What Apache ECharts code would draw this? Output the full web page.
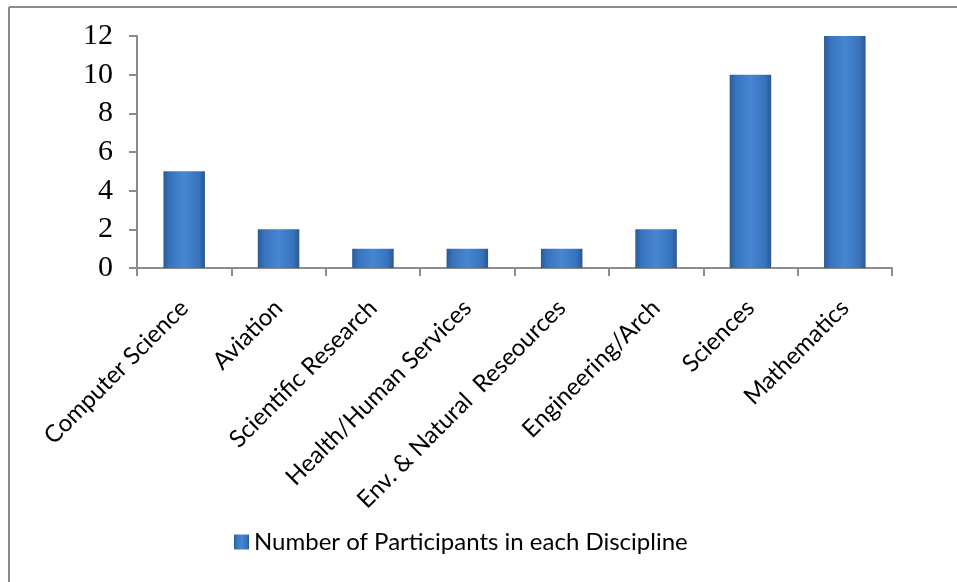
<!DOCTYPE html>
<html>
<head>
<meta charset="utf-8">
<script src="https://cdn.jsdelivr.net/npm/echarts@6/dist/echarts.min.js"></script>
<style>
  html, body { margin: 0; padding: 0; background: #fff; }
  #chart { width: 957px; height: 582px; }
</style>
</head>
<body>
<div id="chart"></div>
<script>
// 数据
var categories = ['Computer Science', 'Aviation', 'Scientific Research', 'Health/Human Services',
    'Env. & Natural  Reseources', 'Engineering/Arch', 'Sciences', 'Mathematics'];
var participants = [5, 2, 1, 1, 1, 2, 10, 12];
var seriesName = 'Number of Participants in each Discipline';

var myChart = echarts.init(document.getElementById('chart'));

// 柱子渐变（左右深，中间亮）
var barColor = new echarts.graphic.LinearGradient(0, 0, 1, 0, [
    {offset: 0, color: '#2b5b96'},
    {offset: 0.15, color: '#3873bd'},
    {offset: 0.5, color: '#4686d2'},
    {offset: 0.85, color: '#3873bd'},
    {offset: 1, color: '#2b5890'}
]);

var option = {
    animation: false,
    grid: {left: 137, right: 65, top: 36, bottom: 314, containLabel: false},
    legend: {
        data: [seriesName],
        left: 229, top: 525,
        itemWidth: 15, itemHeight: 15, itemGap: 7,
        icon: 'rect',
        textStyle: {fontFamily: 'Lato', fontSize: 24, color: '#000'}
    },
    xAxis: {
        type: 'category',
        data: categories,
        axisLine: {lineStyle: {color: '#8c8c8c', width: 2}},
        axisTick: {show: true, length: 8, alignWithLabel: false, lineStyle: {color: '#8c8c8c', width: 2}},
        axisLabel: {
            interval: 0, rotate: 45, margin: 36,
            fontFamily: 'Lato', fontSize: 24, color: '#000'
        }
    },
    yAxis: {
        type: 'value',
        min: 0, max: 12, interval: 2,
        splitLine: {show: false},
        axisLine: {show: true, lineStyle: {color: '#8c8c8c', width: 2}},
        axisTick: {show: true, length: 8, lineStyle: {color: '#8c8c8c', width: 2}},
        axisLabel: {fontFamily: 'Liberation Serif', fontSize: 30, color: '#000', margin: 24}
    },
    series: [{
        name: seriesName,
        type: 'bar',
        data: participants,
        barWidth: '44%',
        itemStyle: {color: barColor}
    }],
    graphic: [
        {type: 'line', shape: {x1: 9, y1: 7, x2: 957, y2: 7}, style: {stroke: '#8c8c8c', lineWidth: 2}},
        {type: 'line', shape: {x1: 9, y1: 7, x2: 9, y2: 582}, style: {stroke: '#8c8c8c', lineWidth: 2}}
    ]
};
myChart.setOption(option);

window.addEventListener('resize', function () { myChart.resize(); });
</script>
</body>
</html>
